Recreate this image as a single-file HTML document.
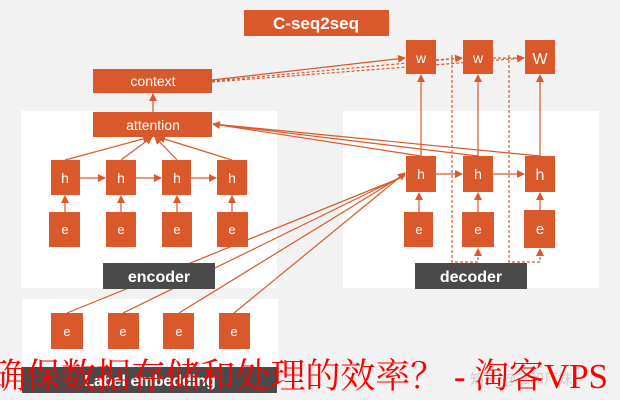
<!DOCTYPE html>
<html><head><meta charset="utf-8"><style>
body{margin:0;background:#f2f2f2;}
svg{display:block}
</style></head><body>
<svg width="620" height="400" viewBox="0 0 620 400" xmlns="http://www.w3.org/2000/svg" font-family="Liberation Sans, DejaVu Sans, sans-serif">
<defs><marker id="a" markerWidth="8" markerHeight="8" refX="7" refY="4" orient="auto" markerUnits="userSpaceOnUse"><path d="M0,0 L8,4 L0,8z" fill="#d9592a"/></marker></defs>
<rect width="620" height="400" fill="#f2f2f2"/>
<rect x="21" y="111" width="256" height="177" fill="#fff"/>
<rect x="343" y="111" width="256" height="177" fill="#fff"/>
<rect x="22" y="299" width="256" height="94" fill="#fff"/>
<g stroke="#d9592a" stroke-width="1.2" fill="none">
<line x1="65" y1="160" x2="150" y2="137" marker-end="url(#a)"/>
<line x1="121" y1="160" x2="152" y2="137" marker-end="url(#a)"/>
<line x1="177" y1="160" x2="155" y2="137" marker-end="url(#a)"/>
<line x1="232" y1="160" x2="158" y2="137" marker-end="url(#a)"/>
<line x1="153" y1="112" x2="153" y2="94" marker-end="url(#a)"/>
<line x1="80" y1="178" x2="105" y2="178" marker-end="url(#a)"/>
<line x1="136" y1="178" x2="161" y2="178" marker-end="url(#a)"/>
<line x1="191" y1="178" x2="216" y2="178" marker-end="url(#a)"/>
<line x1="436" y1="174" x2="462" y2="174" marker-end="url(#a)"/>
<line x1="493" y1="174" x2="524" y2="174" marker-end="url(#a)"/>
<line x1="65" y1="212" x2="65" y2="196" marker-end="url(#a)"/>
<line x1="121" y1="212" x2="121" y2="196" marker-end="url(#a)"/>
<line x1="177" y1="212" x2="177" y2="196" marker-end="url(#a)"/>
<line x1="232" y1="212" x2="232" y2="196" marker-end="url(#a)"/>
<line x1="419" y1="212" x2="419" y2="193" marker-end="url(#a)"/>
<line x1="478" y1="212" x2="478" y2="193" marker-end="url(#a)"/>
<line x1="540" y1="210" x2="540" y2="193" marker-end="url(#a)"/>
<line x1="421" y1="156" x2="421" y2="75" marker-end="url(#a)"/>
<line x1="478" y1="156" x2="478" y2="75" marker-end="url(#a)"/>
<line x1="540" y1="156" x2="540" y2="75" marker-end="url(#a)"/>
<line x1="421" y1="156" x2="213" y2="124" marker-end="url(#a)"/>
<line x1="478" y1="156" x2="213" y2="124"/>
<line x1="540" y1="156" x2="213" y2="124"/>
<line x1="67" y1="313" x2="405" y2="176"/>
<line x1="123" y1="313" x2="405" y2="175"/>
<line x1="179" y1="313" x2="405" y2="174"/>
<line x1="234" y1="313" x2="405" y2="173" marker-end="url(#a)"/>
<line x1="212" y1="80" x2="405" y2="58" marker-end="url(#a)"/>
<g stroke-dasharray="3,2">
<line x1="212" y1="81" x2="462" y2="58" marker-end="url(#a)"/>
<line x1="212" y1="82" x2="524" y2="58" marker-end="url(#a)"/>
<line x1="436" y1="60" x2="462" y2="58"/>
<line x1="493" y1="58" x2="524" y2="58"/>
<polyline points="452,55 452,262 478,262 478,249" marker-end="url(#a)"/>
<polyline points="509,55 509,262 540,262 540,249" marker-end="url(#a)"/>
</g>
</g>
<g fill="#d9592a">
<rect x="244" y="10" width="145" height="26"/>
<rect x="93" y="69" width="119" height="24"/>
<rect x="93" y="112" width="119" height="25"/>
<rect x="51" y="160" width="29" height="35"/><rect x="106" y="160" width="30" height="35"/><rect x="162" y="160" width="29" height="35"/><rect x="217" y="160" width="30" height="35"/>
<rect x="49" y="212" width="31" height="35"/><rect x="106" y="212" width="30" height="35"/><rect x="162" y="212" width="30" height="35"/><rect x="217" y="212" width="31" height="35"/>
<rect x="51" y="313" width="32" height="36"/><rect x="108" y="313" width="31" height="36"/><rect x="163" y="313" width="31" height="36"/><rect x="219" y="313" width="31" height="36"/>
<rect x="404" y="212" width="29" height="35"/><rect x="462" y="212" width="32" height="35"/><rect x="524" y="210" width="31" height="38"/>
<rect x="406" y="156" width="30" height="36"/><rect x="463" y="156" width="30" height="36"/><rect x="525" y="156" width="30" height="36"/>
<rect x="406" y="40" width="30" height="34"/><rect x="463" y="40" width="30" height="34"/><rect x="525" y="40" width="30" height="34"/>
</g>
<g fill="#4a4a4a"><rect x="103" y="263" width="112" height="26"/><rect x="415" y="263" width="112" height="26"/><rect x="22" y="367" width="255" height="26"/></g>
<g fill="#fff" text-anchor="middle" font-size="14">
<text x="316" y="29" font-weight="bold" font-size="17">C-seq2seq</text>
<text x="153" y="86">context</text>
<text x="153" y="130">attention</text>
<text x="65" y="183">h</text><text x="121" y="183">h</text><text x="177" y="183">h</text><text x="232" y="183">h</text>
<text x="421" y="179">h</text><text x="478" y="179">h</text><text x="540" y="180" font-size="16">h</text>
<text x="421" y="63">w</text><text x="478" y="63">w</text><text x="540" y="64" font-size="16">W</text>
<g font-size="13"><text x="65" y="234">e</text><text x="121" y="234">e</text><text x="177" y="234">e</text><text x="232" y="234">e</text>
<text x="67" y="336">e</text><text x="123" y="336">e</text><text x="179" y="336">e</text><text x="234" y="336">e</text>
<text x="419" y="234">e</text><text x="478" y="234">e</text><text x="540" y="234" font-size="15">e</text></g>
<g font-weight="bold" font-size="16"><text x="159" y="282">encoder</text><text x="471" y="282">decoder</text><text x="150" y="386">Label embedding</text></g>
</g>
<text x="470" y="384" fill="#cfcfcf" font-size="14" font-family="Liberation Sans, Noto Sans CJK SC, sans-serif">知乎 @三和厂妹</text>
<text x="-9" y="388" fill="#ff0000" font-size="35" textLength="617" font-family="Liberation Serif, Noto Serif CJK SC, serif">确保数据存储和处理的效率？ - 淘客VPS</text>
</svg>
</body></html>
